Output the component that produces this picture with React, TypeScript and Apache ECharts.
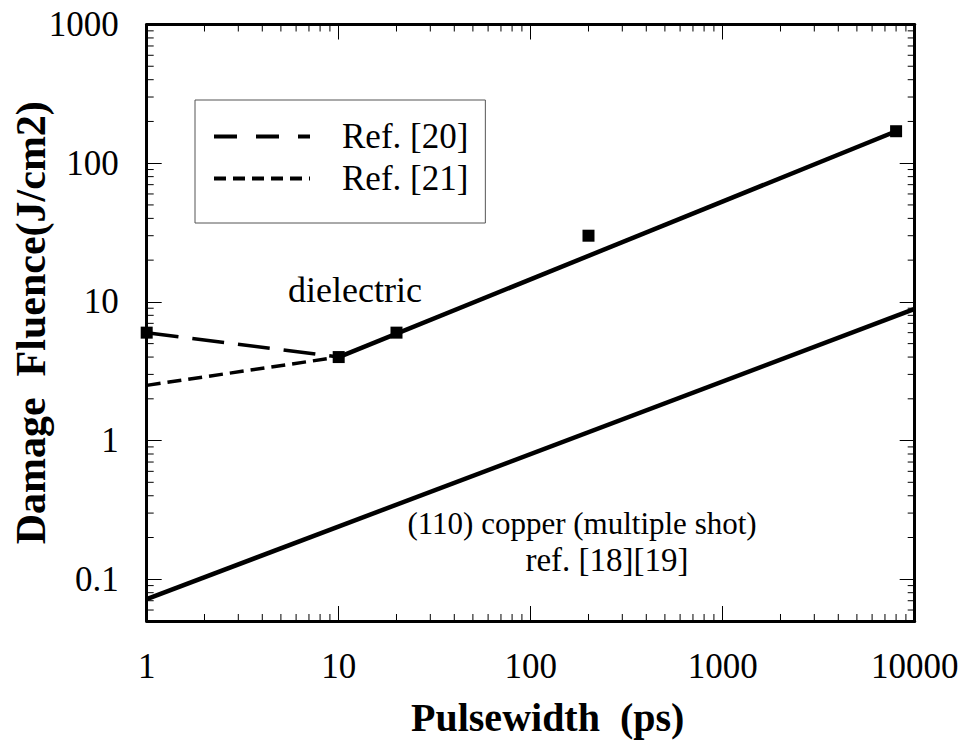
import React, { useEffect, useRef } from "react";
import * as echarts from "echarts";

const FONT = "Liberation Serif, Times New Roman, Times, serif";

const X_MIN = 1;
const X_MAX = 10000;
const Y_MIN = 0.05;
const Y_MAX = 1000;

// Dashed reference lines
const ref20 = [
  [1, 6],
  [10, 4],
];
const ref21 = [
  [1, 2.5],
  [10, 4],
];
// Solid fit line for dielectric
const dielectricFit = [
  [10, 4],
  [8000, 170],
];
// Solid line for (110) copper
const copperLine = [
  [1, 0.072],
  [10000, 8.9],
];
// Measured squares
const measuredPoints = [
  [1, 6],
  [10, 4],
  [20, 6],
  [200, 30],
  [8000, 170],
];

const xMinorTicks = [
  2, 3, 4, 5, 6, 7, 8, 9,
  20, 30, 40, 50, 60, 70, 80, 90,
  200, 300, 400, 500, 600, 700, 800, 900,
  2000, 3000, 4000, 5000, 6000, 7000, 8000, 9000,
];
const yMinorTicks = [
  0.06, 0.07, 0.08, 0.09,
  0.2, 0.3, 0.4, 0.5, 0.6, 0.7, 0.8, 0.9,
  2, 3, 4, 5, 6, 7, 8, 9,
  20, 30, 40, 50, 60, 70, 80, 90,
  200, 300, 400, 500, 600, 700, 800, 900,
];

const isDecade = (v: number) =>
  Math.abs(Math.log10(v) - Math.round(Math.log10(v))) < 1e-6;

export default function App() {
  const ref = useRef<HTMLDivElement>(null);

  useEffect(() => {
    if (!ref.current) return;
    const chart = echarts.init(ref.current, null, { renderer: "svg" });

    const axisCommon = {
      type: "log" as const,
      logBase: 10,
      axisLine: { show: true, onZero: false, lineStyle: { color: "#000", width: 3 } },
      axisTick: { show: true, inside: true, length: 15, lineStyle: { color: "#000", width: 1 } },
      splitLine: { show: false },
      minorTick: { show: false },
      minorSplitLine: { show: false },
    };

    const labelStyle = {
      fontFamily: FONT,
      fontSize: 35,
      color: "#000",
    };

    chart.setOption({
      animation: false,
      backgroundColor: "#fff",
      textStyle: { fontFamily: FONT },
      grid: {
        left: 146.7,
        right: 56.3,
        top: 24.5,
        bottom: 124,
        containLabel: false,
        outerBoundsMode: "none",
      },
      xAxis: [
        {
          ...axisCommon,
          position: "bottom",
          min: X_MIN,
          max: X_MAX,
          axisLabel: {
            ...labelStyle,
            margin: 28,
            formatter: (v: number) => (isDecade(v) ? String(v) : ""),
          },
          name: "Pulsewidth  (ps)",
          nameLocation: "middle",
          nameGap: 76,
          nameMoveOverlap: false,
          nameTextStyle: {
            fontFamily: FONT,
            fontSize: 40,
            fontWeight: "bold",
            color: "#000",
            padding: [0, 0, 0, 34],
          },
        },
        {
          ...axisCommon,
          position: "top",
          min: X_MIN,
          max: X_MAX,
          axisLabel: { show: false },
        },
      ],
      yAxis: [
        {
          ...axisCommon,
          position: "left",
          min: Y_MIN,
          max: Y_MAX,
          axisLabel: {
            ...labelStyle,
            margin: 28,
            formatter: (v: number) => (isDecade(v) ? String(v) : ""),
          },
          name: "Damage  Fluence(J/cm2)",
          nameLocation: "middle",
          nameGap: 95,
          nameMoveOverlap: false,
          nameTextStyle: {
            fontFamily: FONT,
            fontSize: 42,
            fontWeight: "bold",
            color: "#000",
          },
        },
        {
          ...axisCommon,
          position: "right",
          min: Y_MIN,
          max: Y_MAX,
          axisLabel: { show: false },
        },
      ],
      legend: {
        orient: "vertical",
        left: 195,
        top: 100,
        padding: [19, 17, 27, 17],
        itemGap: 7,
        itemWidth: 96,
        itemHeight: 14,
        borderColor: "#555",
        borderWidth: 1,
        selectedMode: false,
        textStyle: {
          fontFamily: FONT,
          fontSize: 35,
          color: "#000",
          padding: [0, 0, 0, 27],
        },
        data: [
          {
            name: "Ref. [20]",
            itemStyle: { opacity: 0 },
            lineStyle: { type: [23, 19], width: 4, color: "#000" },
          },
          {
            name: "Ref. [21]",
            itemStyle: { opacity: 0 },
            lineStyle: { type: [12, 7], width: 4, color: "#000" },
          },
        ],
      },
      graphic: [
        {
          type: "text",
          x: 355,
          y: 290,
          style: {
            text: "dielectric",
            fontFamily: FONT,
            fontSize: 36,
            fill: "#000",
            align: "center",
            verticalAlign: "middle",
          },
        },
        {
          type: "text",
          x: 582,
          y: 523,
          style: {
            text: "(110) copper (multiple shot)",
            fontFamily: FONT,
            fontSize: 31,
            fill: "#000",
            align: "center",
            verticalAlign: "middle",
          },
        },
        {
          type: "text",
          x: 607,
          y: 560,
          style: {
            text: "ref. [18][19]",
            fontFamily: FONT,
            fontSize: 33,
            fill: "#000",
            align: "center",
            verticalAlign: "middle",
          },
        },
      ],
      series: [
        {
          name: "Ref. [20]",
          type: "line",
          data: ref20,
          symbol: "none",
          lineStyle: { color: "#000", width: 3.5, type: [32, 14] },
          itemStyle: { color: "#000" },
          silent: true,
          z: 3,
        },
        {
          name: "Ref. [21]",
          type: "line",
          data: ref21,
          symbol: "none",
          lineStyle: { color: "#000", width: 3.5, type: [14, 7] },
          itemStyle: { color: "#000" },
          silent: true,
          z: 3,
        },
        {
          name: "dielectric fit",
          type: "line",
          data: dielectricFit,
          symbol: "none",
          lineStyle: { color: "#000", width: 4.5 },
          silent: true,
          z: 3,
        },
        {
          name: "copper",
          type: "line",
          data: copperLine,
          symbol: "none",
          lineStyle: { color: "#000", width: 4.5 },
          silent: true,
          z: 3,
        },
        {
          name: "measured",
          type: "scatter",
          data: measuredPoints,
          symbol: "rect",
          symbolSize: 12,
          itemStyle: { color: "#000", opacity: 1 },
          clip: false,
          silent: true,
          z: 4,
        },
        {
          name: "xMinor",
          type: "custom",
          silent: true,
          clip: false,
          data: xMinorTicks.map((v) => [v, Y_MIN]),
          renderItem: (_params: any, api: any) => {
            const v = api.value(0);
            const b = api.coord([v, Y_MIN]);
            const t = api.coord([v, Y_MAX]);
            return {
              type: "group",
              children: [
                {
                  type: "line",
                  shape: { x1: b[0], y1: b[1], x2: b[0], y2: b[1] - 7 },
                  style: { stroke: "#000", lineWidth: 1 },
                },
                {
                  type: "line",
                  shape: { x1: t[0], y1: t[1], x2: t[0], y2: t[1] + 7 },
                  style: { stroke: "#000", lineWidth: 1 },
                },
              ],
            };
          },
        },
        {
          name: "yMinor",
          type: "custom",
          silent: true,
          clip: false,
          data: yMinorTicks.map((v) => [X_MIN, v]),
          renderItem: (_params: any, api: any) => {
            const v = api.value(1);
            const l = api.coord([X_MIN, v]);
            const r = api.coord([X_MAX, v]);
            return {
              type: "group",
              children: [
                {
                  type: "line",
                  shape: { x1: l[0], y1: l[1], x2: l[0] + 7, y2: l[1] },
                  style: { stroke: "#000", lineWidth: 1 },
                },
                {
                  type: "line",
                  shape: { x1: r[0], y1: r[1], x2: r[0] - 7, y2: r[1] },
                  style: { stroke: "#000", lineWidth: 1 },
                },
              ],
            };
          },
        },
      ],
    });

    return () => {
      chart.dispose();
    };
  }, []);

  return (
    <div
      ref={ref}
      style={{ position: "fixed", left: 0, top: 0, width: 971, height: 745, background: "#fff" }}
    />
  );
}
